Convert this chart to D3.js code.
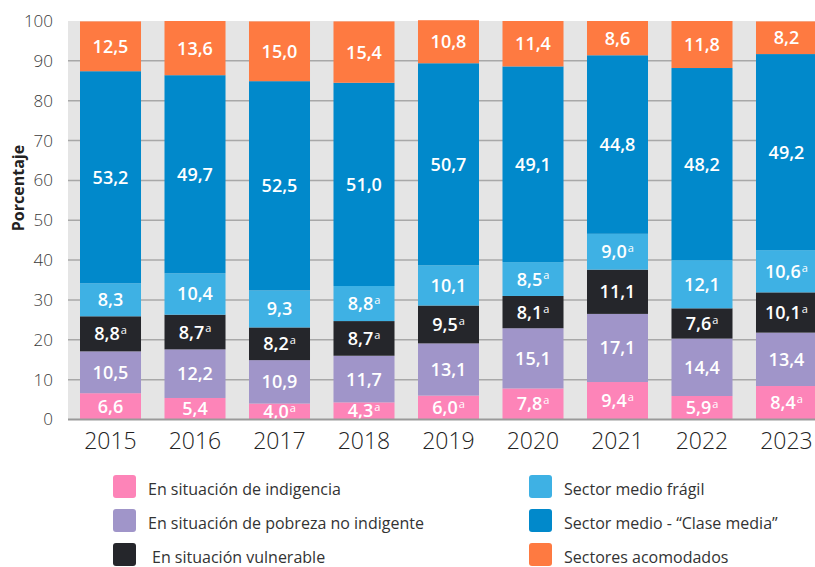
<!DOCTYPE html>
<html lang="es">
<head>
<meta charset="UTF-8">
<title>Estratos sociales 2015-2023</title>
<script src="https://d3js.org/d3.v7.min.js"></script>
<style>
    body { margin: 0; background: white; }
    svg { display: block; font-family: "Open Sans", sans-serif; }
</style>
</head>
<body>
<svg width="815" height="567"></svg>
<script>
    // data, bottom segment first
    const years = ["2015", "2016", "2017", "2018", "2019", "2020", "2021", "2022", "2023"];
    const indigencia = [6.6, 5.4, 4.0, 4.3, 6.0, 7.8, 9.4, 5.9, 8.4];
    const pobreza = [10.5, 12.2, 10.9, 11.7, 13.1, 15.1, 17.1, 14.4, 13.4];
    const vulnerable = [8.8, 8.7, 8.2, 8.7, 9.5, 8.1, 11.1, 7.6, 10.1];
    const fragil = [8.3, 10.4, 9.3, 8.8, 10.1, 8.5, 9.0, 12.1, 10.6];
    const claseMedia = [53.2, 49.7, 52.5, 51.0, 50.7, 49.1, 44.8, 48.2, 49.2];
    const acomodados = [12.5, 13.6, 15.0, 15.4, 10.8, 11.4, 8.6, 11.8, 8.2];
    // values flagged with a superscript "a"
    const flagIndigencia = [0, 0, 1, 1, 1, 1, 1, 1, 1];
    const flagPobreza = [0, 0, 0, 0, 0, 0, 0, 0, 0];
    const flagVulnerable = [1, 1, 1, 1, 1, 1, 0, 1, 1];
    const flagFragil = [0, 0, 0, 1, 0, 1, 1, 0, 1];
    const flagMedia = [0, 0, 0, 0, 0, 0, 0, 0, 0];
    const flagAcomodados = [0, 0, 0, 0, 0, 0, 0, 0, 0];
    const yTicks = [0, 10, 20, 30, 40, 50, 60, 70, 80, 90, 100];

    const series = [
        { name: "En situación de indigencia", values: indigencia, flags: flagIndigencia, color: "#fd84b8" },
        { name: "En situación de pobreza no indigente", values: pobreza, flags: flagPobreza, color: "#a095c9" },
        { name: "En situación vulnerable", values: vulnerable, flags: flagVulnerable, color: "#25262b" },
        { name: "Sector medio frágil", values: fragil, flags: flagFragil, color: "#3eb1e4" },
        { name: "Sector medio - \u201cClase media\u201d", values: claseMedia, flags: flagMedia, color: "#0189cb" },
        { name: "Sectores acomodados", values: acomodados, flags: flagAcomodados, color: "#fe7a41" }
    ];

    const svg = d3.select("svg");
    const W = 815;

    const x = d3.scaleBand()
        .domain(years)
        .range([68, 829])
        .paddingInner(0.278)
        .paddingOuter(0.142);

    const y = d3.scaleLinear().domain([0, 100]).range([419.5, 21]);

    // grey plot background
    svg.append("rect")
        .attr("x", 68).attr("y", y(100))
        .attr("width", W - 68).attr("height", y(0) - y(100))
        .attr("fill", "#e5e5e5");

    // gridlines
    svg.append("g").selectAll("line")
        .data(yTicks.filter(d => d > 0 && d < 100))
        .join("line")
        .attr("x1", 68).attr("x2", W)
        .attr("y1", d => y(d)).attr("y2", d => y(d))
        .attr("stroke", "#a8a8a8").attr("stroke-width", 1.5);

    // tick labels
    svg.append("g").selectAll("text")
        .data(yTicks)
        .join("text")
        .attr("x", 53).attr("y", d => y(d))
        .attr("dy", "0.35em")
        .attr("text-anchor", "end")
        .attr("font-size", 17).attr("font-weight", 300)
        .attr("fill", "#3a3a3a")
        .text(d => d);

    // stacked bars
    const table = years.map((yr, i) => {
        const row = { year: yr };
        series.forEach((s, k) => row[k] = s.values[i]);
        return row;
    });
    const stack = d3.stack().keys(series.map((s, k) => k))(table);

    const layers = svg.append("g").selectAll("g")
        .data(stack)
        .join("g")
        .attr("fill", d => series[d.key].color);

    layers.selectAll("rect")
        .data(d => d)
        .join("rect")
        .attr("x", d => x(d.data.year))
        .attr("width", x.bandwidth())
        .attr("y", d => y(d[1]))
        .attr("height", d => y(d[0]) - y(d[1]));

    // value labels
    const fmt = v => v.toFixed(1).replace(".", ",");
    stack.forEach(layer => {
        const s = series[layer.key];
        layer.forEach((d, i) => {
            const t = svg.append("text")
                .attr("x", x(d.data.year) + x.bandwidth() / 2)
                .attr("y", y((d[0] + d[1]) / 2))
                .attr("dy", "0.36em")
                .attr("text-anchor", "middle")
                .attr("font-size", 18).attr("font-weight", 600)
                .attr("fill", "white");
            t.append("tspan").text(fmt(s.values[i]));
            if (s.flags[i]) {
                t.append("tspan")
                    .attr("font-size", 11).attr("font-weight", 400)
                    .attr("dy", "-0.55em").attr("dx", 1)
                    .text("a");
            }
        });
    });

    // baseline
    svg.append("line")
        .attr("x1", 68).attr("x2", W)
        .attr("y1", y(0)).attr("y2", y(0))
        .attr("stroke", "#9a9a9a").attr("stroke-width", 2);

    // year labels
    svg.append("g").selectAll("text")
        .data(years)
        .join("text")
        .attr("x", d => x(d) + x.bandwidth() / 2)
        .attr("y", 449)
        .attr("text-anchor", "middle")
        .attr("font-size", 23).attr("font-weight", 300)
        .attr("fill", "#222")
        .text(d => d);

    // y axis title
    svg.append("text")
        .attr("transform", "translate(24,188) rotate(-90)")
        .attr("text-anchor", "middle")
        .attr("font-size", 16).attr("font-weight", 700)
        .attr("fill", "#222")
        .text("Porcentaje");

    // legend, two columns of three
    const legend = svg.append("g").selectAll("g")
        .data(series)
        .join("g")
        .attr("transform", (d, i) => {
            const col = i < 3 ? 0 : 1;
            const row = i % 3;
            return `translate(${col ? 529 : 113},${475 + row * 34})`;
        });

    legend.append("rect")
        .attr("width", 23).attr("height", 23)
        .attr("rx", 3)
        .attr("fill", d => d.color);

    legend.append("text")
        .attr("x", (d, i) => i === 2 ? 39 : 35)
        .attr("y", 20)
        .attr("font-size", 16).attr("font-weight", 400)
        .attr("fill", "#333")
        .text(d => d.name);
</script>
</body>
</html>
